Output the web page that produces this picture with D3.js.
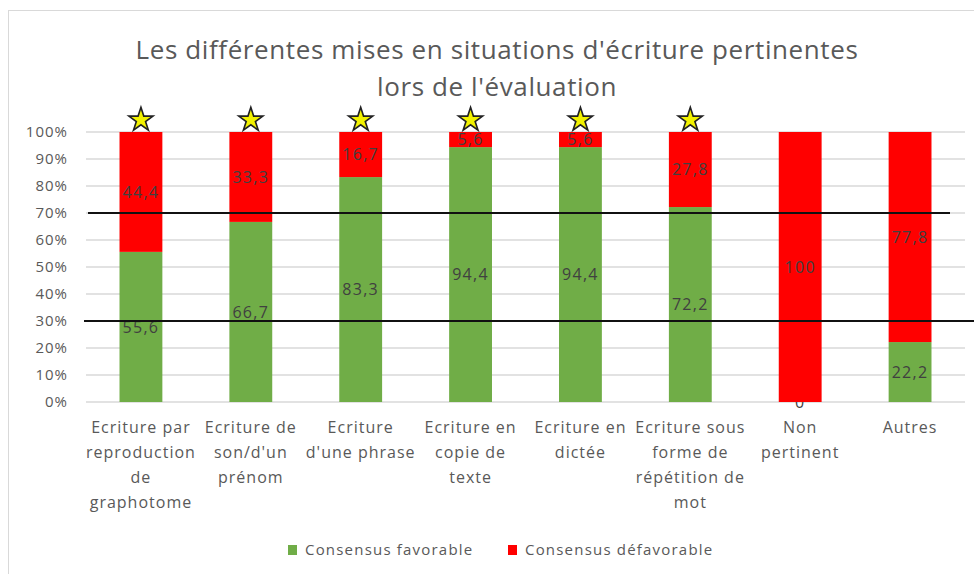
<!DOCTYPE html>
<html>
<head>
<meta charset="utf-8">
<script src="https://cdn.jsdelivr.net/npm/d3@7"></script>
<style>
    body { margin: 0; background: #fff; }
    text { font-family: "Open Sans", sans-serif; }
</style>
</head>
<body>
<script>
//wrap everything in a self-executing anonymous function to move to local scope
(function(){

//chart data
var categories = ["Ecriture par\nreproduction\nde\ngraphotome", "Ecriture de\nson/d'un\nprénom", "Ecriture\nd'une phrase", "Ecriture en\ncopie de\ntexte", "Ecriture en\ndictée", "Ecriture sous\nforme de\nrépétition de\nmot", "Non\npertinent", "Autres"];
var favorable = [55.6, 66.7, 83.3, 94.4, 94.4, 72.2, 0, 22.2];
var defavorable = [44.4, 33.3, 16.7, 5.6, 5.6, 27.8, 100, 77.8];
var starred = [true, true, true, true, true, true, false, false];
var thresholds = [70, 30];
var yTicks = [0, 10, 20, 30, 40, 50, 60, 70, 80, 90, 100];
var seriesNames = ["Consensus favorable", "Consensus défavorable"];
var seriesColors = ["#70ad47", "#ff0000"];
var title = ["Les différentes mises en situations d'écriture pertinentes", "lors de l'évaluation"];

window.onload = drawChart();

function drawChart(){
    var width = 974,
    height = 574;

    var svg = d3.select("body")
        .append("svg")
        .attr("width", width)
        .attr("height", height);

    //chart area border
    svg.append("rect")
        .attr("x", 8.5)
        .attr("y", 10.5)
        .attr("width", 1000)
        .attr("height", 600)
        .attr("fill", "none")
        .attr("stroke", "#d9d9d9");

    //title
    svg.selectAll(".title")
        .data(title)
        .enter()
        .append("text")
        .attr("class", "title")
        .attr("x", 497)
        .attr("y", function(d, i){ return 59 + i * 37; })
        .attr("text-anchor", "middle")
        .attr("font-size", 26)
        .attr("letter-spacing", 0.6)
        .attr("fill", "#595959")
        .text(function(d){ return d; });

    //scales
    var x = d3.scaleBand()
        .domain(categories)
        .range([86, 965])
        .paddingInner(0.61)
        .paddingOuter(0.305);

    var y = d3.scaleLinear()
        .domain([0, 100])
        .range([402, 132]);

    //gridlines
    svg.append("g")
        .selectAll("line")
        .data(yTicks)
        .enter()
        .append("line")
        .attr("x1", 86)
        .attr("x2", 965)
        .attr("y1", function(d){ return y(d); })
        .attr("y2", function(d){ return y(d); })
        .attr("stroke", "#d9d9d9")
        .attr("stroke-width", 1.3);

    //y axis labels
    var yAxis = d3.axisLeft(y)
        .tickValues(yTicks)
        .tickSize(0)
        .tickPadding(0)
        .tickFormat(function(d){ return d + "%"; });

    var yg = svg.append("g")
        .attr("transform", "translate(68,0)")
        .call(yAxis);
    yg.select(".domain").remove();
    yg.selectAll("text")
        .attr("font-family", "Open Sans, sans-serif")
        .attr("font-size", 15)
        .attr("letter-spacing", 1)
        .attr("fill", "#595959");

    //stack the two series
    var rows = categories.map(function(c, i){
        return { cat: c, fav: favorable[i], def: defavorable[i] };
    });
    var stack = d3.stack().keys(["fav", "def"])(rows);

    var comma = d3.formatLocale({ decimal: ",", thousands: " ", grouping: [3], currency: ["", "€"] }).format("~f");

    var layers = svg.selectAll(".layer")
        .data(stack)
        .enter()
        .append("g")
        .attr("class", "layer")
        .attr("fill", function(d, i){ return seriesColors[i]; });

    layers.selectAll("rect")
        .data(function(d){ return d; })
        .enter()
        .append("rect")
        .attr("x", function(d){ return x(d.data.cat); })
        .attr("width", x.bandwidth())
        .attr("y", function(d){ return y(d[1]); })
        .attr("height", function(d){ return y(d[0]) - y(d[1]); });

    //data labels
    layers.selectAll(".lbl")
        .data(function(d){ return d; })
        .enter()
        .append("text")
        .attr("class", "lbl")
        .attr("x", function(d){ return x(d.data.cat) + x.bandwidth() / 2; })
        .attr("y", function(d){ return y((d[0] + d[1]) / 2); })
        .attr("dy", "0.35em")
        .attr("text-anchor", "middle")
        .attr("font-size", 16)
        .attr("letter-spacing", 1.3)
        .attr("fill", "#404040")
        .text(function(d){ return comma(d[1] - d[0]); });

    //threshold lines
    svg.selectAll(".thr")
        .data(thresholds)
        .enter()
        .append("line")
        .attr("class", "thr")
        .attr("x1", function(d, i){ return i == 0 ? 88 : 84; })
        .attr("x2", function(d, i){ return i == 0 ? 950 : 974; })
        .attr("y1", function(d){ return y(d); })
        .attr("y2", function(d){ return y(d); })
        .attr("stroke", "#111")
        .attr("stroke-width", 2);

    //stars above pertinent situations
    var star = d3.symbol().type(d3.symbolStar).size(180);
    svg.selectAll(".star")
        .data(categories.filter(function(c, i){ return starred[i]; }))
        .enter()
        .append("path")
        .attr("class", "star")
        .attr("d", star)
        .attr("transform", function(d){
            return "translate(" + (x(d) + x.bandwidth() / 2) + "," + 120 + ")";
        })
        .attr("fill", "#f2f200")
        .attr("stroke", "#222")
        .attr("stroke-width", 1.6);

    //x axis labels, one tspan per line
    var xl = svg.selectAll(".xlab")
        .data(categories)
        .enter()
        .append("text")
        .attr("class", "xlab")
        .attr("text-anchor", "middle")
        .attr("font-size", 16)
        .attr("letter-spacing", 1)
        .attr("fill", "#595959");

    xl.selectAll("tspan")
        .data(function(d){
            return d.split("\n").map(function(t){ return { t: t, cx: x(d) + x.bandwidth() / 2 }; });
        })
        .enter()
        .append("tspan")
        .attr("x", function(d){ return d.cx; })
        .attr("y", function(d, i){ return 433 + i * 25; })
        .text(function(d){ return d.t; });

    //legend
    var legendX = [288, 508];
    var legend = svg.selectAll(".legend")
        .data(seriesNames)
        .enter()
        .append("g")
        .attr("class", "legend")
        .attr("transform", function(d, i){ return "translate(" + legendX[i] + ",545)"; });

    legend.append("rect")
        .attr("width", 9)
        .attr("height", 10)
        .attr("fill", function(d, i){ return seriesColors[i]; });

    legend.append("text")
        .attr("x", 17)
        .attr("y", 5)
        .attr("dy", "0.35em")
        .attr("font-size", 15)
        .attr("letter-spacing", 1.2)
        .attr("fill", "#595959")
        .text(function(d){ return d; });
};

})();
</script>
</body>
</html>
